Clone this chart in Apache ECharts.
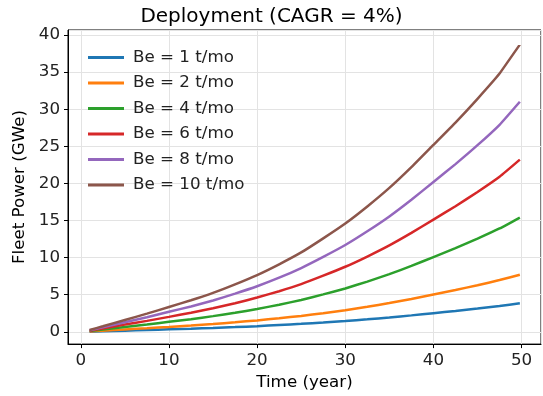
<!DOCTYPE html>
<html>
<head>
<meta charset="utf-8">
<script src="https://cdn.jsdelivr.net/npm/echarts@6/dist/echarts.min.js"></script>
<style>
html,body{margin:0;padding:0;background:#fff;}
#c{width:543px;height:396px;}
</style>
</head>
<body>
<div id="c"></div>
<script>
var years = [1, 2.5, 5, 7.5, 10, 12.5, 15, 17.5, 20, 22.5, 25, 27.5, 30, 32.5, 35, 37.5, 40, 42.5, 45, 47.5, 49.8];
var seriesNames = ['Be = 1 t/mo', 'Be = 2 t/mo', 'Be = 4 t/mo', 'Be = 6 t/mo', 'Be = 8 t/mo', 'Be = 10 t/mo'];
var be1  = [0.02, 0.07, 0.16, 0.24, 0.34, 0.43, 0.53, 0.64, 0.77, 0.92, 1.08, 1.26, 1.46, 1.69, 1.94, 2.22, 2.52, 2.82, 3.14, 3.49, 3.85];
var be2  = [0.05, 0.15, 0.32, 0.49, 0.67, 0.86, 1.06, 1.29, 1.54, 1.83, 2.15, 2.52, 2.92, 3.38, 3.88, 4.44, 5.04, 5.64, 6.28, 6.98, 7.7];
var be4  = [0.1, 0.3, 0.65, 0.98, 1.35, 1.71, 2.12, 2.57, 3.08, 3.66, 4.3, 5.05, 5.85, 6.77, 7.77, 8.89, 10.08, 11.28, 12.56, 13.93, 15.4];
var be6  = [0.15, 0.45, 0.98, 1.48, 2.02, 2.57, 3.17, 3.86, 4.62, 5.48, 6.44, 7.57, 8.77, 10.15, 11.65, 13.33, 15.13, 16.93, 18.85, 20.9, 23.2];
var be8  = [0.2, 0.6, 1.3, 1.97, 2.7, 3.42, 4.22, 5.15, 6.15, 7.3, 8.6, 10.1, 11.7, 13.55, 15.55, 17.8, 20.2, 22.6, 25.15, 27.9, 31.0];
var be10 = [0.25, 0.75, 1.6, 2.45, 3.35, 4.25, 5.25, 6.4, 7.65, 9.1, 10.7, 12.6, 14.6, 16.9, 19.4, 22.2, 25.2, 28.2, 31.4, 34.8, 38.7];
var allValues = [be1, be2, be4, be6, be8, be10];
var colors = ['#1f77b4', '#ff7f0e', '#2ca02c', '#d62728', '#9467bd', '#8c564b'];

var FONT = 'DejaVu Sans';
var FS = 16.7;
var series = allValues.map(function (vals, i) {
  return {
    name: seriesNames[i],
    type: 'line',
    showSymbol: false,
    symbol: 'none',
    smooth: 0.15,
    data: vals.map(function (v, j) { return [years[j], v]; }),
    lineStyle: { width: 2.5, color: colors[i] },
    itemStyle: { color: colors[i] },
    emphasis: { disabled: true },
    z: 2 + i
  };
});

var chart = echarts.init(document.getElementById('c'), null, { renderer: 'canvas' });
chart.setOption({
  animation: false,
  backgroundColor: '#fff',
  title: {
    text: 'Deployment (CAGR = 4%)',
    left: 'center',
    top: 2,
    textStyle: { fontFamily: FONT, fontSize: 20, fontWeight: 'normal', color: '#000' }
  },
  legend: {
    orient: 'vertical',
    left: 83,
    top: 43,
    icon: 'rect',
    itemWidth: 36,
    itemHeight: 3,
    itemGap: 6.5,
    data: seriesNames,
    textStyle: { fontFamily: FONT, fontSize: FS, color: '#222', lineHeight: 19, padding: [0, 0, 0, 4] }
  },
  grid: {
    left: 68, right: 2, top: 30, bottom: 50,
    show: true, borderColor: '#000', borderWidth: 1
  },
  xAxis: {
    type: 'value',
    min: -1.45,
    max: 52.2,
    splitNumber: 5,
    name: 'Time (year)',
    nameLocation: 'middle',
    nameGap: 28,
    nameTextStyle: { fontFamily: FONT, fontSize: FS, color: '#000' },
    axisLine: { show: true, onZero: false, lineStyle: { color: '#000', width: 1 } },
    axisTick: { show: true, length: 4, lineStyle: { color: '#000' } },
    axisLabel: { fontFamily: FONT, fontSize: FS, color: '#222', margin: 8, showMinLabel: false, showMaxLabel: false },
    splitLine: { show: true, lineStyle: { color: '#e3e3e3', width: 1 } }
  },
  yAxis: {
    type: 'value',
    min: -1.65,
    max: 40.67,
    splitNumber: 8,
    name: 'Fleet Power (GWe)',
    nameLocation: 'middle',
    nameGap: 31,
    nameTextStyle: { fontFamily: FONT, fontSize: FS, color: '#000' },
    axisLine: { show: true, onZero: false, lineStyle: { color: '#000', width: 1 } },
    axisTick: { show: true, length: 4, lineStyle: { color: '#000' } },
    axisLabel: { fontFamily: FONT, fontSize: FS, color: '#222', margin: 8, showMinLabel: false, showMaxLabel: false },
    splitLine: { show: true, lineStyle: { color: '#e3e3e3', width: 1 } }
  },
  series: series
});
</script>
</body>
</html>
